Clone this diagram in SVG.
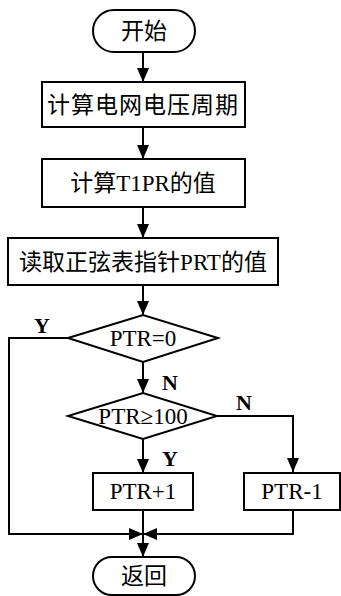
<svg xmlns="http://www.w3.org/2000/svg" width="341" height="596" viewBox="0 0 341 596">
<defs>
<style>
.s{fill:#fff;stroke:#000;stroke-width:2}
.l{fill:none;stroke:#000;stroke-width:2}
.t{font-family:"Liberation Serif","Noto Sans CJK SC",serif;font-size:23px;fill:#000;text-anchor:middle}
.lb{font-family:"Liberation Serif",serif;font-size:22px;font-weight:bold;fill:#000;text-anchor:middle}
</style>
<marker id="a" markerUnits="userSpaceOnUse" markerWidth="14" markerHeight="14" viewBox="0 0 14 14" refX="14" refY="7" orient="auto">
<path d="M0,1 L14,7 L0,13 Z" fill="#000"/>
</marker>
</defs>
<rect width="341" height="596" fill="#fff"/>
<g id="connectors">
<line class="l" x1="143" y1="52" x2="143" y2="82" marker-end="url(#a)"/>
<line class="l" x1="143" y1="127" x2="143" y2="159" marker-end="url(#a)"/>
<line class="l" x1="143" y1="207" x2="143" y2="238" marker-end="url(#a)"/>
<line class="l" x1="143" y1="285" x2="143" y2="315" marker-end="url(#a)"/>
<line class="l" x1="143" y1="362" x2="143" y2="393" marker-end="url(#a)"/>
<line class="l" x1="143" y1="439" x2="143" y2="473" marker-end="url(#a)"/>
<polyline class="l" points="217,416 293,416 293,472" marker-end="url(#a)"/>
<polyline class="l" points="68,338 9,338 9,534 143,534" marker-end="url(#a)"/>
<polyline class="l" points="293,510 293,534 143,534" marker-end="url(#a)"/>
<line class="l" x1="143" y1="510" x2="143" y2="557" marker-end="url(#a)"/>
<text class="lb" x="42" y="333">Y</text>
<text class="lb" x="170" y="390">N</text>
<text class="lb" x="244" y="410">N</text>
<text class="lb" x="170" y="466">Y</text>
</g>
<g id="start">
<rect class="s" x="93" y="10" width="102" height="42" rx="21"/>
<text class="t" x="144" y="39">开始</text>
</g>
<g id="calcPeriod">
<rect class="s" x="42" y="82" width="203" height="45"/>
<text class="t" x="143" y="113" letter-spacing="1">计算电网电压周期</text>
</g>
<g id="calcT1PR">
<rect class="s" x="42" y="159" width="203" height="48"/>
<text class="t" x="143" y="191">计算T1PR的值</text>
</g>
<g id="readPRT">
<rect class="s" x="8" y="238" width="270" height="47"/>
<text class="t" x="143" y="270">读取正弦表指针PRT的值</text>
</g>
<g id="dec1">
<polygon class="s" points="68,338 143,315 218,338 143,362"/>
<text class="t" x="143" y="346">PTR=0</text>
</g>
<g id="dec2">
<polygon class="s" points="68,416 143,393 217,416 143,439"/>
<text class="t" x="143" y="424">PTR≥100</text>
</g>
<g id="inc">
<rect class="s" x="93" y="473" width="100" height="37"/>
<text class="t" x="143" y="499">PTR+1</text>
</g>
<g id="dec">
<rect class="s" x="244" y="473" width="96" height="37"/>
<text class="t" x="292" y="499">PTR-1</text>
</g>
<g id="end">
<rect class="s" x="93" y="557" width="102" height="38" rx="19"/>
<text class="t" x="144" y="584">返回</text>
</g>
</svg>
